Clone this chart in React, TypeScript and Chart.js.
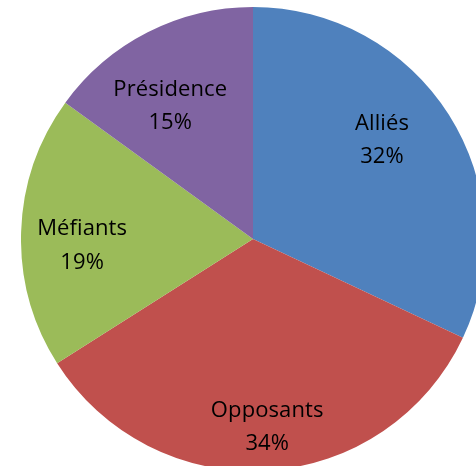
import React, { useEffect, useRef } from "react";
import { Chart, registerables } from "chart.js";

Chart.register(...registerables);

const categories: string[] = ["Alliés", "Opposants", "Méfiants", "Présidence"];
const values: number[] = [32, 34, 19, 15];
const colors: string[] = ["#4F81BD", "#C0504D", "#9BBB59", "#8064A2"];

// label placement style: radial fraction and small pixel nudges per slice
const labelRadius: number[] = [0.684, 0.838, 0.737, 0.653];
const labelNudge: number[][] = [[-5, -7.5], [2, 0], [0, 18], [-14, 8]];

const labelPlugin = {
  id: "sliceLabels",
  afterDatasetsDraw(chart: any) {
    const ctx = chart.ctx;
    const meta = chart.getDatasetMeta(0);
    const total = values.reduce((a, b) => a + b, 0);
    ctx.save();
    ctx.font = "22px 'Open Sans'";
    try {
      (ctx as any).letterSpacing = "0.1px";
    } catch (e) {}
    ctx.fillStyle = "#000";
    ctx.textAlign = "center";
    ctx.textBaseline = "alphabetic";
    meta.data.forEach((arc: any, i: number) => {
      const p = arc.getProps(["x", "y", "startAngle", "endAngle", "outerRadius"], true);
      const mid = (p.startAngle + p.endAngle) / 2;
      const r = p.outerRadius * labelRadius[i];
      const cx = p.x + Math.cos(mid) * r + labelNudge[i][0];
      const cy = p.y + Math.sin(mid) * r + labelNudge[i][1];
      const pct = Math.round((values[i] / total) * 100) + "%";
      ctx.fillText(categories[i], cx, cy - 16.5);
      ctx.fillText(pct, cx, cy + 17);
    });
    ctx.restore();
  },
};

export default function App() {
  const ref = useRef<HTMLCanvasElement>(null);
  useEffect(() => {
    if (!ref.current) return;
    const chart = new Chart(ref.current, {
      type: "pie",
      data: {
        labels: categories,
        datasets: [
          {
            data: values,
            backgroundColor: colors,
            borderWidth: 0,
          },
        ],
      },
      options: {
        responsive: false,
        animation: false,
        layout: { padding: 0 },
        plugins: {
          legend: { display: false },
          tooltip: { enabled: false },
        },
      },
      plugins: [labelPlugin],
    });
    return () => chart.destroy();
  }, []);
  return (
    <div
      style={{
        position: "fixed",
        left: 0,
        top: 0,
        width: 476,
        height: 466,
        overflow: "hidden",
        background: "#fff",
      }}
    >
      <div style={{ position: "absolute", left: 21, top: 7, width: 464, height: 464 }}>
        <canvas ref={ref} width={464} height={464} />
      </div>
    </div>
  );
}
